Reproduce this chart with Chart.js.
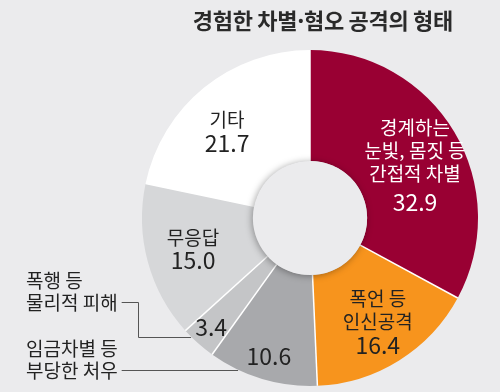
<!DOCTYPE html>
<html lang="ko">
<head>
<meta charset="utf-8">
<title>경험한 차별·혐오 공격의 형태</title>
<script src="https://cdn.jsdelivr.net/npm/chart.js@4.4.1/dist/chart.umd.min.js"></script>
<style>
  html, body { margin: 0; padding: 0; background: #ebebed; }
  #wrap { width: 500px; height: 392px; }
</style>
</head>
<body>
<div id="wrap"><canvas id="chart" width="500" height="392"></canvas></div>
<script>
const titleText = '경험한 차별·혐오 공격의 형태';
const categories = ['경계하는\n눈빛, 몸짓 등\n간접적 차별', '폭언 등\n인신공격', '임금차별 등\n부당한 처우', '폭행 등\n물리적 피해', '무응답', '기타'];
const values = [32.9, 16.4, 10.6, 3.4, 15.0, 21.7];
const sliceColors = ['#990033', '#f7941d', '#a8a9ac', '#c4c5c7', '#d6d7d9', '#ffffff'];

// label placement: radius as share of outer radius, angle nudge in degrees
const labelStyle = [
    { r: 0.70, nudge: 4, color: '#ffffff', gap: 29 },
    { r: 0.74, nudge: -1, color: '#222222', gap: 23 },
    { r: 0.86, nudge: 0, color: '#222222', gap: 23, outside: true, at: 0.73, rise: 0 },
    { r: 0.875, nudge: 0.5, color: '#222222', gap: 23, outside: true, at: 0.77, rise: 35 },
    { r: 0.72, nudge: 0.3, color: '#222222', gap: 22 },
    { r: 0.714, nudge: -4.7, color: '#222222', gap: 23 }
];

const FONT = '"Noto Sans CJK KR", "Noto Sans", sans-serif';

const decorations = {
    id: 'decorations',
    afterDatasetsDraw(chart) {
        const ctx = chart.ctx;
        const arcs = chart.getDatasetMeta(0).data;
        const cx = arcs[0].x, cy = arcs[0].y;
        const outer = arcs[0].outerRadius, inner = arcs[0].innerRadius;

        // white separators between slices
        ctx.save();
        ctx.strokeStyle = '#ffffff';
        ctx.lineWidth = 1.5;
        arcs.forEach(a => {
            ctx.beginPath();
            ctx.moveTo(cx + inner * Math.cos(a.startAngle), cy + inner * Math.sin(a.startAngle));
            ctx.lineTo(cx + outer * Math.cos(a.startAngle), cy + outer * Math.sin(a.startAngle));
            ctx.stroke();
        });
        ctx.restore();

        // hole with soft shadow
        ctx.save();
        ctx.shadowColor = 'rgba(0,0,0,0.35)';
        ctx.shadowBlur = 7;
        ctx.shadowOffsetX = -1;
        ctx.shadowOffsetY = 1;
        ctx.fillStyle = '#ebebed';
        ctx.beginPath();
        ctx.arc(cx, cy, inner, 0, Math.PI * 2);
        ctx.fill();
        ctx.restore();

        // labels
        ctx.save();
        ctx.textAlign = 'center';
        ctx.textBaseline = 'middle';
        arcs.forEach((a, i) => {
            const st = labelStyle[i];
            const mid = (a.startAngle + a.endAngle) / 2 + st.nudge * Math.PI / 180;
            const px = cx + outer * st.r * Math.cos(mid);
            const py = cy + outer * st.r * Math.sin(mid);
            const numText = values[i].toFixed(1);
            ctx.fillStyle = st.color;
            if (st.outside) {
                ctx.font = '23px ' + FONT;
                ctx.fillText(numText, px, py);
                return;
            }
            const lines = categories[i].split('\n');
            const total = (lines.length - 1) * 23 + st.gap;
            let y = py - total / 2;
            ctx.font = '19px ' + FONT;
            lines.forEach((ln, k) => {
                ctx.fillText(ln, px, y + k * 23);
            });
            ctx.font = '23px ' + FONT;
            ctx.fillText(numText, px, y + (lines.length - 1) * 23 + st.gap);
        });
        ctx.restore();

        // outside labels with leader lines
        ctx.save();
        ctx.font = '19px ' + FONT;
        ctx.textAlign = 'left';
        ctx.textBaseline = 'middle';
        ctx.fillStyle = '#222222';
        ctx.strokeStyle = '#555555';
        ctx.lineWidth = 1;
        const textLeft = 26;
        arcs.forEach((a, i) => {
            const st = labelStyle[i];
            if (!st.outside) return;
            const ang = a.startAngle + st.at * (a.endAngle - a.startAngle);
            const ax = cx + outer * Math.cos(ang);
            const ay = cy + outer * Math.sin(ang);
            const lineY = Math.round(ay - st.rise) + 0.5;
            const lines = categories[i].split('\n');
            lines.forEach((ln, k) => {
                ctx.fillText(ln, textLeft, lineY - (lines.length - 1 - k) * 22);
            });
            const w = Math.max(...lines.map(l => ctx.measureText(l).width));
            const startX = textLeft + w + 4;
            const elbowX = chart.chartArea.left - 3.5;
            ctx.beginPath();
            ctx.moveTo(startX, lineY);
            if (st.rise > 0) {
                ctx.lineTo(elbowX, lineY);
                ctx.lineTo(elbowX, Math.round(ay) + 0.5);
            }
            ctx.lineTo(ax, Math.round(ay) + 0.5);
            ctx.stroke();
        });
        ctx.restore();

        // title
        ctx.save();
        ctx.font = 'bold 22px ' + FONT;
        ctx.textAlign = 'right';
        ctx.textBaseline = 'middle';
        ctx.fillStyle = '#2a2a2a';
        ctx.letterSpacing = '-0.3px';
        ctx.fillText(titleText, 453, 21);
        ctx.restore();
    }
};

new Chart(document.getElementById('chart'), {
    type: 'doughnut',
    data: {
        labels: categories,
        datasets: [{
            data: values,
            backgroundColor: sliceColors,
            borderWidth: 0
        }]
    },
    options: {
        responsive: false,
        animation: false,
        devicePixelRatio: 1,
        events: [],
        cutout: '34%',
        layout: { padding: { left: 142, right: 22, top: 50, bottom: 6 } },
        plugins: {
            legend: { display: false },
            tooltip: { enabled: false },
            title: { display: false }
        }
    },
    plugins: [decorations]
});
</script>
</body>
</html>
